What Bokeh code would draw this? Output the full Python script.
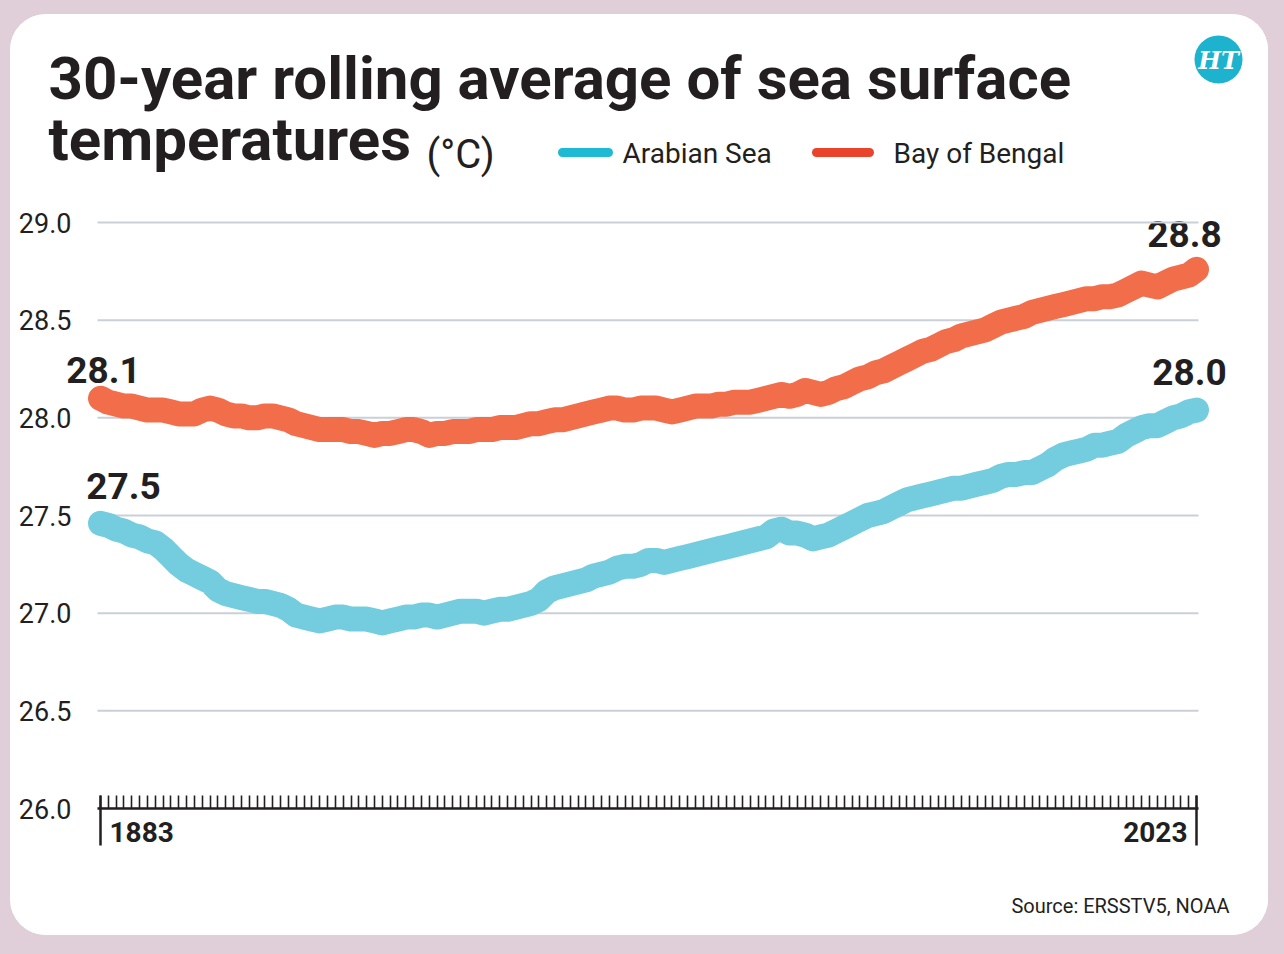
from bokeh.plotting import figure
from bokeh.models import Range1d, FixedTicker, NumeralTickFormatter, GridBox
from bokeh.layouts import column
from bokeh.core.properties import value
from bokeh.embed import file_html
from bokeh.resources import INLINE

# 30-year rolling average sea surface temperature (deg C), one value per year
YEARS = list(range(1883, 2024))
ARABIAN_SEA = [
    27.46, 27.45, 27.43, 27.42, 27.40, 27.39, 27.37, 27.36, 27.33, 27.29,
    27.25, 27.22, 27.20, 27.18, 27.16, 27.12, 27.10, 27.09, 27.08, 27.07,
    27.06, 27.06, 27.05, 27.04, 27.02, 26.99, 26.98, 26.97, 26.96, 26.97,
    26.98, 26.98, 26.97, 26.97, 26.97, 26.96, 26.95, 26.96, 26.97, 26.98,
    26.98, 26.99, 26.99, 26.98, 26.99, 27.00, 27.01, 27.01, 27.01, 27.00,
    27.01, 27.02, 27.02, 27.03, 27.04, 27.05, 27.07, 27.11, 27.13, 27.14,
    27.15, 27.16, 27.17, 27.19, 27.20, 27.21, 27.23, 27.24, 27.24, 27.25,
    27.27, 27.27, 27.26, 27.27, 27.28, 27.29, 27.30, 27.31, 27.32, 27.33,
    27.34, 27.35, 27.36, 27.37, 27.38, 27.39, 27.42, 27.43, 27.41, 27.41,
    27.40, 27.38, 27.39, 27.40, 27.42, 27.44, 27.46, 27.48, 27.50, 27.51,
    27.52, 27.54, 27.56, 27.58, 27.59, 27.60, 27.61, 27.62, 27.63, 27.64,
    27.64, 27.65, 27.66, 27.67, 27.68, 27.70, 27.71, 27.71, 27.72, 27.72,
    27.74, 27.76, 27.79, 27.81, 27.82, 27.83, 27.84, 27.86, 27.86, 27.87,
    27.88, 27.91, 27.93, 27.95, 27.96, 27.96, 27.98, 28.00, 28.01, 28.03,
    28.04,
]
BAY_OF_BENGAL = [
    28.10, 28.08, 28.07, 28.06, 28.06, 28.05, 28.04, 28.04, 28.04, 28.03,
    28.02, 28.02, 28.02, 28.04, 28.05, 28.04, 28.02, 28.01, 28.01, 28.00,
    28.00, 28.01, 28.01, 28.00, 27.99, 27.97, 27.96, 27.95, 27.94, 27.94,
    27.94, 27.94, 27.93, 27.93, 27.92, 27.91, 27.92, 27.92, 27.93, 27.94,
    27.94, 27.93, 27.91, 27.92, 27.92, 27.93, 27.93, 27.93, 27.94, 27.94,
    27.94, 27.95, 27.95, 27.95, 27.96, 27.97, 27.97, 27.98, 27.99, 27.99,
    28.00, 28.01, 28.02, 28.03, 28.04, 28.05, 28.05, 28.04, 28.04, 28.05,
    28.05, 28.05, 28.04, 28.03, 28.04, 28.05, 28.06, 28.06, 28.06, 28.07,
    28.07, 28.08, 28.08, 28.08, 28.09, 28.10, 28.11, 28.12, 28.11, 28.12,
    28.14, 28.13, 28.12, 28.13, 28.15, 28.16, 28.18, 28.20, 28.21, 28.23,
    28.24, 28.26, 28.28, 28.30, 28.32, 28.34, 28.35, 28.37, 28.39, 28.40,
    28.42, 28.43, 28.44, 28.45, 28.47, 28.49, 28.50, 28.51, 28.52, 28.54,
    28.55, 28.56, 28.57, 28.58, 28.59, 28.60, 28.61, 28.61, 28.62, 28.62,
    28.63, 28.65, 28.67, 28.69, 28.68, 28.67, 28.69, 28.71, 28.72, 28.73,
    28.76,
]
Y_TICKS = [26.0, 26.5, 27.0, 27.5, 28.0, 28.5, 29.0]
X_TICK_LABELS = ["1883", "2023"]
SERIES_NAMES = ["Arabian Sea", "Bay of Bengal"]

INK = "#231f20"
FONT = "Roboto"
PAGE_BG = "#e0cfd8"
GRID = "#c9d0d7"
LINE_BLUE, LINE_RED = "#74cddf", "#f26e4b"
KEY_BLUE, KEY_RED = "#1eb9d3", "#e9432b"

# card size (pixels); the frame is a little wider than the axis so that the
# round line caps at both ends are not cut off
W, H = 1258, 921
FL, FR, FT, FB = 74, 1202, 188, 794
AXIS_L, AXIS_R = 87, 1188          # drawn extent of the x axis and grid
PX_YEAR = (1186 - 90) / (YEARS[-1] - YEARS[0])
PX_DEG = (FB - 208) / 3.0
X0 = YEARS[0] - (90 - FL) / PX_YEAR
X1 = YEARS[-1] + (FR - 1186) / PX_YEAR
Y0 = 26.0
Y1 = 26.0 + (FB - FT) / PX_DEG
AX0 = YEARS[0] - (90 - AXIS_L) / PX_YEAR
AX1 = YEARS[-1] + (AXIS_R - 1186) / PX_YEAR


def card_x(year):
    return FL + (year - X0) * PX_YEAR


def card_y(temp):
    return FB - (temp - Y0) * PX_DEG


# ---- chart layer: series, grid and axes on a transparent canvas ----
p = figure(width=W, height=H, x_range=Range1d(X0, X1), y_range=Range1d(Y0, Y1),
           output_backend="svg", toolbar_location=None,
           min_border_left=FL, min_border_right=W - FR,
           min_border_top=FT, min_border_bottom=H - FB,
           background_fill_alpha=0, border_fill_alpha=0,
           outline_line_color=None)

p.yaxis.ticker = FixedTicker(ticks=Y_TICKS)
p.yaxis.formatter = NumeralTickFormatter(format="0.0")
p.yaxis.axis_line_color = None
p.yaxis.major_tick_line_color = None
p.yaxis.minor_tick_line_color = None
p.yaxis.major_label_standoff = 20 - (AXIS_L - FL)
p.yaxis.major_label_text_font = FONT
p.yaxis.major_label_text_font_size = "27px"
p.yaxis.major_label_text_color = INK
p.grid.grid_line_color = None

# horizontal guides at the y ticks, over the axis extent only
n = len(Y_TICKS)
p.segment(x0=[AX0] * n, y0=Y_TICKS, x1=[AX1] * n, y1=Y_TICKS,
          line_color=GRID, line_width=2)

p.xaxis.ticker = FixedTicker(ticks=[YEARS[0], YEARS[-1]], minor_ticks=YEARS)
p.xaxis.bounds = (AX0, AX1)
p.xaxis.axis_line_color = INK
p.xaxis.axis_line_width = 2.5
p.xaxis.major_tick_line_color = INK
p.xaxis.major_tick_line_width = 2.5
p.xaxis.major_tick_in = 13
p.xaxis.major_tick_out = 37
p.xaxis.minor_tick_line_color = INK
p.xaxis.minor_tick_line_width = 1.6
p.xaxis.minor_tick_in = 13
p.xaxis.minor_tick_out = 0
p.xaxis.major_label_overrides = {YEARS[0]: "", YEARS[-1]: ""}

p.line(YEARS, BAY_OF_BENGAL, line_color=LINE_RED, line_width=25,
       line_cap="round", line_join="round")
p.line(YEARS, ARABIAN_SEA, line_color=LINE_BLUE, line_width=25,
       line_cap="round", line_join="round")

# ---- card layer: white card with the title, key, labels and source ----
bg = figure(width=W, height=H, x_range=Range1d(0, W), y_range=Range1d(H, 0),
            output_backend="svg", toolbar_location=None, min_border=0,
            x_axis_location=None, y_axis_location=None,
            background_fill_color="white", border_fill_color="white",
            outline_line_color=None)
bg.grid.grid_line_color = None

# each layer keeps its own frame inside the shared grid cell
for fig in (bg, p):
    try:
        fig.frame_align = False
    except AttributeError:
        pass

# the svg text baseline sits lower than the requested position by about this
# fraction of the font size, so texts are lifted to put baselines where wanted
BASELINE_LIFT = 0.36


def put_text(x, y, text, size, bold=False, color=INK, align="left",
             baseline="alphabetic", font=FONT, style=None):
    if baseline == "alphabetic":
        y -= BASELINE_LIFT * size
    bg.text(x=[x], y=[y], text=[text], text_font=value(font),
            text_font_size=f"{size}px",
            text_font_style=style or ("bold" if bold else "normal"),
            text_color=color, text_align=align, text_baseline=baseline)


put_text(38, 86, "30-year rolling average of sea surface", 60, bold=True)
put_text(38, 147, "temperatures", 60, bold=True)
put_text(416, 154, "(°C)", 40)

# series key
bg.line([552, 598], [138, 138], line_color=KEY_BLUE, line_width=9, line_cap="round")
put_text(612, 149, SERIES_NAMES[0], 28)
bg.line([806, 859], [138, 138], line_color=KEY_RED, line_width=9, line_cap="round")
put_text(883, 149, SERIES_NAMES[1], 28)

# masthead badge
bg.circle(x=[1208], y=[45], radius=24, fill_color="#1db3ce", line_color=None)
put_text(1208, 46, "HT", 24, color="white", align="center", baseline="middle",
         font="DejaVu Serif", style="bold italic")

# year labels beside the end ticks
put_text(card_x(YEARS[0]) + 9, 828, X_TICK_LABELS[0], 28, bold=True)
put_text(card_x(YEARS[-1]) - 9, 828, X_TICK_LABELS[1], 28, bold=True, align="right")

# start and end values of each series
for xv, yv, dxp, dyp in [(YEARS[0], BAY_OF_BENGAL[0], 3, 15),
                         (YEARS[0], ARABIAN_SEA[0], 23, 24),
                         (YEARS[-1], BAY_OF_BENGAL[-1], -12, 22),
                         (YEARS[-1], ARABIAN_SEA[-1], -7, 25)]:
    put_text(card_x(xv) + dxp, card_y(yv) - dyp, f"{yv:.1f}", 37,
             bold=True, align="center")

put_text(1219, 899, "Source: ERSSTV5, NOAA", 20, align="right")

# stack the chart layer over the card layer in one grid cell
card = GridBox(children=[(bg, 0, 0), (p, 0, 0)],
               styles={"border-radius": "36px", "overflow": "hidden",
                       "background-color": "white"})
card.margin = (14, 16, 19, 10)
page = column(card, styles={"background-color": PAGE_BG})
open("out.html", "w").write(file_html(page, INLINE))
